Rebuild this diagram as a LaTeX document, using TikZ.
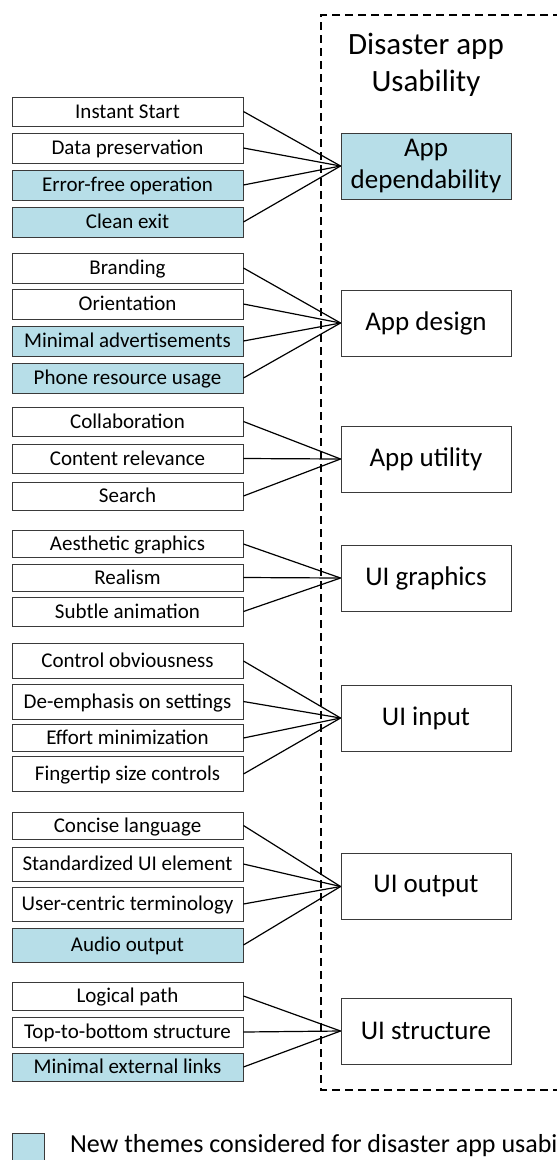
\documentclass[tikz,border=0pt]{standalone}
\usepackage{fontspec}
\setmainfont{Carlito}
\definecolor{newtheme}{HTML}{B7DEE8}
\definecolor{boxline}{HTML}{3A3A3A}
\tikzset{
  leftbox/.style={draw=boxline, line width=0.9pt, minimum width=231pt, inner sep=0pt,
    font=\fontsize{21}{25}\selectfont, text height=13.5pt, text depth=0pt, anchor=center},
  newbox/.style={fill=newtheme},
  rightbox/.style={draw=boxline, line width=0.9pt, minimum width=170pt, minimum height=66pt,
    inner sep=0pt, font=\fontsize{27}{33}\selectfont, align=center, anchor=center},
  conn/.style={draw=black, line width=1.2pt},
  frame/.style={draw=black, line width=1.2pt, dash pattern=on 8pt off 5pt},
}
\begin{document}
\begin{tikzpicture}[x=1pt, y=-1pt]
\clip (0,0) rectangle (557,1160);
\fill[white] (0,0) rectangle (557,1160);

% overall frame
\draw[frame] (600,15) -- (321,15) -- (321,1090) -- (600,1090);
\node[font=\fontsize{31}{37}\selectfont, anchor=base] (title1) at (426,54) {Disaster app};
\node[font=\fontsize{31}{37}\selectfont, anchor=base] (title2) at (426,91) {Usability};

% categories
\node[rightbox, newbox] (dep) at (426,166) {App\\[-1pt]dependability};
\node[rightbox] (design) at (426,323) {App design};
\node[rightbox] (util) at (426,459) {App utility};
\node[rightbox] (graph) at (426,578) {UI graphics};
\node[rightbox] (input) at (426,718) {UI input};
\node[rightbox] (output) at (426,886.5) {UI output};
\node[rightbox] (struct) at (426,1031) {UI structure};

% themes: app dependability
\node[leftbox, minimum height=29pt] (is) at (127.5,111.5) {Instant Start};
\node[leftbox, minimum height=30pt] (dp) at (127.5,148) {Data preservation};
\node[leftbox, newbox, minimum height=30pt] (ef) at (127.5,185) {Error-free operation};
\node[leftbox, newbox, minimum height=30pt] (ce) at (127.5,222) {Clean exit};
% themes: app design
\node[leftbox, minimum height=30pt] (br) at (127.5,268) {Branding};
\node[leftbox, minimum height=30pt] (or) at (127.5,304) {Orientation};
\node[leftbox, newbox, minimum height=30pt] (ma) at (127.5,341) {Minimal advertisements};
\node[leftbox, newbox, minimum height=30pt] (pr) at (127.5,378) {Phone resource usage};
% themes: app utility
\node[leftbox, minimum height=29pt] (co) at (127.5,421.5) {Collaboration};
\node[leftbox, minimum height=29pt] (cr) at (127.5,458.5) {Content relevance};
\node[leftbox, minimum height=28pt] (se) at (127.5,496) {Search};
% themes: UI graphics
\node[leftbox, minimum height=27pt] (ag) at (127.5,544) {Aesthetic graphics};
\node[leftbox, minimum height=27pt] (re) at (127.5,577.5) {Realism};
\node[leftbox, minimum height=29pt] (sa) at (127.5,611.5) {Subtle animation};
% themes: UI input
\node[leftbox, minimum height=35pt] (cob) at (127.5,661) {Control obviousness};
\node[leftbox, minimum height=35pt] (de) at (127.5,701.5) {De-emphasis on settings};
\node[leftbox, minimum height=27pt] (em) at (127.5,738) {Effort minimization};
\node[leftbox, minimum height=35pt] (ft) at (127.5,774) {Fingertip size controls};
% themes: UI output
\node[leftbox, minimum height=27pt] (cl) at (127.5,825.5) {Concise language};
\node[leftbox, minimum height=34pt] (std) at (127.5,864) {Standardized UI element};
\node[leftbox, minimum height=34pt] (uc) at (127.5,904) {User-centric terminology};
\node[leftbox, newbox, minimum height=34pt] (ao) at (127.5,945) {Audio output};
% themes: UI structure
\node[leftbox, minimum height=28pt] (lp) at (127.5,996) {Logical path};
\node[leftbox, minimum height=30pt] (tb) at (127.5,1032) {Top-to-bottom structure};
\node[leftbox, newbox, minimum height=28pt] (me) at (127.5,1067) {Minimal external links};

% connectors
\foreach \s in {is,dp,ef,ce} \draw[conn] (\s.east) -- (dep.west);
\foreach \s in {br,or,ma,pr} \draw[conn] (\s.east) -- (design.west);
\foreach \s in {co,cr,se} \draw[conn] (\s.east) -- (util.west);
\foreach \s in {ag,re,sa} \draw[conn] (\s.east) -- (graph.west);
\foreach \s in {cob,de,em,ft} \draw[conn] (\s.east) -- (input.west);
\foreach \s in {cl,std,uc,ao} \draw[conn] (\s.east) -- (output.west);
\foreach \s in {lp,tb,me} \draw[conn] (\s.east) -- (struct.west);

% legend
\node[draw=boxline, line width=0.9pt, fill=newtheme, minimum width=32pt, minimum height=32pt,
  inner sep=0pt, anchor=north west] (key) at (12,1133) {};
\node[font=\fontsize{26}{31}\selectfont, anchor=base west, inner sep=0pt] (keytext) at (70,1152)
  {New themes considered for disaster app usability};
\end{tikzpicture}
\end{document}
